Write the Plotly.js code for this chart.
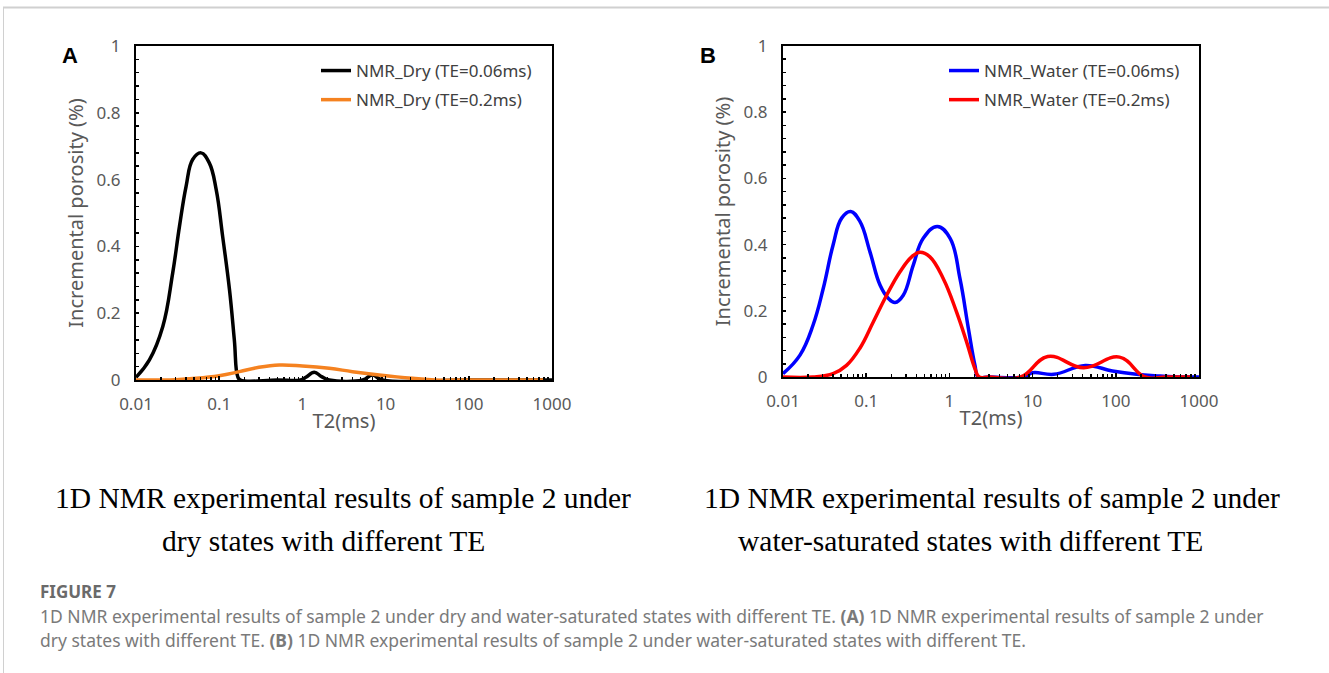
<!DOCTYPE html>
<html>
<head>
<meta charset="utf-8">
<script src="https://cdn.plot.ly/plotly-3.0.1.min.js"></script>
<style>
html,body{margin:0;padding:0;background:#fff;}
#chart{width:1329px;height:673px;}
</style>
</head>
<body>
<div id="chart"></div>
<script>
// ---- Data ----
// Panel A: dry state
const dry006_T2 = [0.01, 0.0145, 0.021, 0.0276, 0.0333, 0.040, 0.048, 0.0605, 0.076, 0.092, 0.110, 0.133, 0.152, 0.167, 0.18, 0.5, 0.95, 1.1, 1.39, 1.7, 2.1, 5.3, 6.9, 9.2, 100, 1000];
const dry006_val = [0.008, 0.06, 0.16, 0.32, 0.46, 0.58, 0.66, 0.68, 0.65, 0.57, 0.43, 0.27, 0.12, 0.01, 0.0, 0.0, 0.0, 0.008, 0.023, 0.01, 0.0, 0.0, 0.015, 0.0, 0.0, 0.0];
const dry02_T2 = [0.01, 0.03, 0.053, 0.1, 0.175, 0.3, 0.53, 1, 2.1, 4, 8.4, 21, 40, 100, 800];
const dry02_val = [0.0, 0.001, 0.005, 0.013, 0.025, 0.038, 0.045, 0.042, 0.035, 0.025, 0.015, 0.005, 0.0, 0.0, 0.0];

// Panel B: water-saturated state
const wat006_T2 = [0.01, 0.016, 0.023, 0.0305, 0.040, 0.0507, 0.065, 0.084, 0.111, 0.147, 0.185, 0.222, 0.279, 0.368, 0.485, 0.716, 1.02, 1.34, 1.69, 2.03, 2.22, 3, 7.9, 10, 18, 43, 91, 177, 340, 600, 1000];
const wat006_val = [0.01, 0.066, 0.157, 0.268, 0.399, 0.48, 0.50, 0.47, 0.378, 0.277, 0.237, 0.225, 0.247, 0.338, 0.419, 0.455, 0.419, 0.297, 0.147, 0.035, 0.0, 0.0, 0.0, 0.013, 0.008, 0.035, 0.018, 0.008, 0.003, 0.0, 0.0];
const wat02_T2 = [0.01, 0.023, 0.04, 0.058, 0.084, 0.122, 0.176, 0.255, 0.352, 0.443, 0.583, 0.845, 1.22, 1.61, 2.03, 2.28, 3, 7.2, 15.2, 41, 111, 224, 400, 800];
const wat02_val = [0.0, 0.0, 0.01, 0.035, 0.087, 0.167, 0.247, 0.318, 0.363, 0.377, 0.363, 0.297, 0.196, 0.106, 0.025, 0.0, 0.0, 0.0, 0.062, 0.028, 0.06, 0.0, 0.0, 0.0];

const tickVals = [0.01, 0.1, 1, 10, 100, 1000];
const tickText = ['0.01', '0.1', '1', '10', '100', '1000'];
const yTickVals = [0, 0.2, 0.4, 0.6, 0.8, 1];
const yTickText = ['0', '0.2', '0.4', '0.6', '0.8', '1'];

const tickColor = '#595959';
const baseFont = 'Noto Sans, Open Sans, sans-serif';

function trace(x, y, name, color, xa, ya, legend, group) {
  return {x: x, y: y, name: name, type: 'scatter', mode: 'lines',
    line: {color: color, width: 3.5, shape: 'spline', smoothing: 1.2},
    xaxis: xa, yaxis: ya, legend: legend, legendgroup: group, cliponaxis: true};
}

const data = [
  trace(dry006_T2, dry006_val, 'NMR_Dry (TE=0.06ms)', '#000000', 'x', 'y', 'legend', 'a1'),
  trace(dry02_T2, dry02_val, 'NMR_Dry (TE=0.2ms)', '#F58220', 'x', 'y', 'legend', 'a2'),
  trace(wat006_T2, wat006_val, 'NMR_Water (TE=0.06ms)', '#0000FF', 'x2', 'y2', 'legend2', 'b1'),
  trace(wat02_T2, wat02_val, 'NMR_Water (TE=0.2ms)', '#FF0000', 'x2', 'y2', 'legend2', 'b2')
];

function xAxis(domain, anchor) {
  return {domain: domain, anchor: anchor, type: 'log', range: [-2, 3],
    tickvals: tickVals, ticktext: tickText, ticks: 'inside', ticklen: 4, tickwidth: 1.5, tickcolor: '#000',
    minor: {tickmode: 'linear', dtick: 'D1', ticks: 'inside', ticklen: 3, tickwidth: 1.5, tickcolor: '#000', showgrid: false},
    showline: true, linecolor: '#000', linewidth: 2, mirror: true, showgrid: false, zeroline: false,
    ticklabelstandoff: 8,
    tickfont: {family: baseFont, size: 17, color: tickColor},
    title: {text: 'T2(ms)', font: {family: baseFont, size: 20, color: tickColor}, standoff: 0}};
}
function yAxis(domain, anchor) {
  return {domain: domain, anchor: anchor, range: [0, 1],
    tickvals: yTickVals, ticktext: yTickText, ticks: 'inside', ticklen: 3, tickwidth: 1.5, tickcolor: '#000',
    minor: {dtick: 0.04, ticks: 'inside', ticklen: 3, tickwidth: 1.5, tickcolor: '#000', showgrid: false},
    showline: true, linecolor: '#000', linewidth: 2, mirror: true, showgrid: false, zeroline: false,
    ticklabelstandoff: 10,
    tickfont: {family: baseFont, size: 17, color: tickColor},
    title: {text: 'Incremental porosity (%)', font: {family: baseFont, size: 20, color: tickColor}, standoff: 8}};
}

const W = 1329, H = 673;
const px = v => v / W, py = v => 1 - v / H;

const layout = {
  width: W, height: H,
  margin: {l: 0, r: 0, t: 0, b: 0},
  paper_bgcolor: '#fff', plot_bgcolor: '#fff',
  showlegend: true,
  xaxis: xAxis([px(136), px(552)], 'y'),
  yaxis: yAxis([py(380), py(46)], 'x'),
  xaxis2: xAxis([px(783), px(1199)], 'y2'),
  yaxis2: yAxis([py(377), py(46)], 'x2'),
  legend: {x: px(316), y: py(53), xanchor: 'left', yanchor: 'top', bgcolor: 'rgba(0,0,0,0)',
    font: {family: baseFont, size: 17, color: '#404040'}, traceorder: 'grouped', tracegroupgap: 4},
  legend2: {x: px(944), y: py(53), xanchor: 'left', yanchor: 'top', bgcolor: 'rgba(0,0,0,0)',
    font: {family: baseFont, size: 17, color: '#404040'}, traceorder: 'grouped', tracegroupgap: 4},
  shapes: [
    {type: 'line', xref: 'paper', yref: 'paper', x0: px(3), x1: 1, y0: py(7.5), y1: py(7.5), line: {color: '#d0d0d0', width: 2}},
    {type: 'line', xref: 'paper', yref: 'paper', x0: px(3.5), x1: px(3.5), y0: py(7.5), y1: 0, line: {color: '#d0d0d0', width: 1}}
  ],
  annotations: [
    {text: '<b>A</b>', xref: 'paper', yref: 'paper', x: px(70), y: py(55), xanchor: 'center', yanchor: 'middle', showarrow: false,
      font: {family: 'Liberation Sans, Arial, sans-serif', size: 22, color: '#000'}},
    {text: '<b>B</b>', xref: 'paper', yref: 'paper', x: px(708), y: py(55), xanchor: 'center', yanchor: 'middle', showarrow: false,
      font: {family: 'Liberation Sans, Arial, sans-serif', size: 22, color: '#000'}},
    {text: '1D NMR experimental results of sample 2 under', xref: 'paper', yref: 'paper', x: px(343), y: py(498), xanchor: 'center', yanchor: 'middle', showarrow: false,
      font: {family: 'Liberation Serif, Times New Roman, serif', size: 29.5, color: '#000'}},
    {text: 'dry states with different TE', xref: 'paper', yref: 'paper', x: px(323), y: py(541), xanchor: 'center', yanchor: 'middle', showarrow: false,
      font: {family: 'Liberation Serif, Times New Roman, serif', size: 29.5, color: '#000'}},
    {text: '1D NMR experimental results of sample 2 under', xref: 'paper', yref: 'paper', x: px(992), y: py(498), xanchor: 'center', yanchor: 'middle', showarrow: false,
      font: {family: 'Liberation Serif, Times New Roman, serif', size: 29.5, color: '#000'}},
    {text: 'water-saturated states with different TE', xref: 'paper', yref: 'paper', x: px(970), y: py(541), xanchor: 'center', yanchor: 'middle', showarrow: false,
      font: {family: 'Liberation Serif, Times New Roman, serif', size: 29.5, color: '#000'}},
    {text: '<b>FIGURE 7</b>', xref: 'paper', yref: 'paper', x: px(38), y: py(591), xanchor: 'left', yanchor: 'middle', showarrow: false,
      font: {family: baseFont, size: 17, color: '#6a6a6a'}},
    {text: '1D NMR experimental results of sample 2 under dry and water-saturated states with different TE. <b>(A)</b> 1D NMR experimental results of sample 2 under',
      xref: 'paper', yref: 'paper', x: px(38), y: py(616), xanchor: 'left', yanchor: 'middle', showarrow: false,
      font: {family: baseFont, size: 17.5, color: '#7a7a7a'}},
    {text: 'dry states with different TE. <b>(B)</b> 1D NMR experimental results of sample 2 under water-saturated states with different TE.',
      xref: 'paper', yref: 'paper', x: px(38), y: py(640), xanchor: 'left', yanchor: 'middle', showarrow: false,
      font: {family: baseFont, size: 17.5, color: '#7a7a7a'}}
  ]
};

Plotly.newPlot('chart', data, layout, {staticPlot: true, displayModeBar: false});
</script>
</body>
</html>
